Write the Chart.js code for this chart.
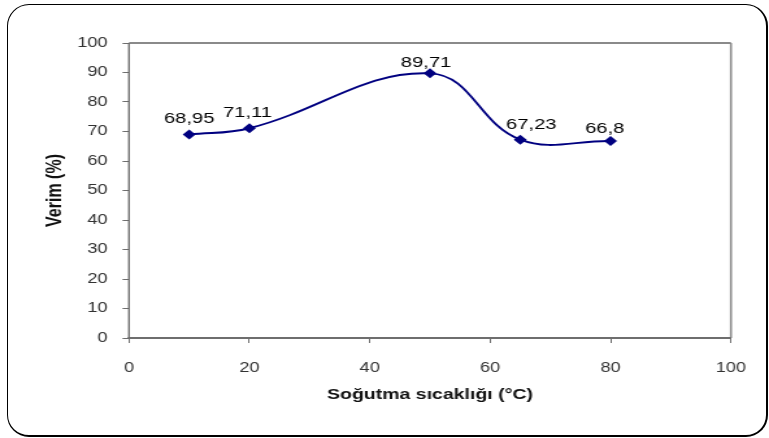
<!DOCTYPE html>
<html>
<head>
<meta charset="utf-8">
<script src="https://cdn.jsdelivr.net/npm/chart.js@4/dist/chart.umd.min.js"></script>
<style>
  html, body { margin: 0; padding: 0; background: #fff; }
  #wrap { position: relative; width: 769px; height: 438px; overflow: hidden; }
  #frame {
    position: absolute; left: 7px; top: 4px; width: 761px; height: 433px;
    box-sizing: border-box; border: 1px solid #000;
    border-right-width: 2px; border-bottom-width: 2px;
    border-radius: 22px;
  }
  /* the chart is drawn on a narrower canvas and widened to the page */
  canvas { position: absolute; left: 0; top: 0; transform-origin: 0 0; transform: scaleX(1.299); }
</style>
</head>
<body>
<div id="wrap">
  <div id="frame"></div>
  <canvas id="c" width="592" height="438"></canvas>
</div>
<script>
// Cooling temperature (°C) vs. yield (%)
const temperatures = [10, 20, 50, 65, 80];
const yields = [68.95, 71.11, 89.71, 67.23, 66.8];
const yieldLabels = ['68,95', '71,11', '89,71', '67,23', '66,8'];
const xTicks = [0, 20, 40, 60, 80, 100];
const yTicks = [0, 10, 20, 30, 40, 50, 60, 70, 80, 90, 100];

const points = temperatures.map((t, i) => ({ x: t, y: yields[i] }));
const FONT = '"Liberation Sans", Arial, sans-serif';

// Plot-area frame: grey box with darker axis lines
const plotFrame = {
  id: 'plotFrame',
  beforeDatasetsDraw(chart) {
    const { ctx, chartArea: a } = chart;
    ctx.save();
    ctx.strokeStyle = '#8a8a8a';
    ctx.lineWidth = 2;
    ctx.beginPath();
    ctx.moveTo(a.left, a.top);
    ctx.lineTo(a.right, a.top);
    ctx.stroke();
    ctx.lineWidth = 1.6;
    ctx.beginPath();
    ctx.moveTo(a.right, a.top);
    ctx.lineTo(a.right, a.bottom);
    ctx.stroke();
    ctx.strokeStyle = '#6e6e6e';
    ctx.lineWidth = 1.4;
    ctx.beginPath();
    ctx.moveTo(a.left, a.top);
    ctx.lineTo(a.left, a.bottom);
    ctx.stroke();
    ctx.lineWidth = 2;
    ctx.beginPath();
    ctx.moveTo(a.left - 1, a.bottom);
    ctx.lineTo(a.right, a.bottom);
    ctx.stroke();
    ctx.restore();
  }
};

// Value labels above each marker (with small per-label nudges)
const valueLabels = {
  id: 'valueLabels',
  afterDatasetsDraw(chart, args, opts) {
    const { ctx } = chart;
    const meta = chart.getDatasetMeta(0);
    ctx.save();
    ctx.font = '15.5px ' + FONT;
    ctx.fillStyle = '#000';
    ctx.textAlign = 'center';
    ctx.textBaseline = 'alphabetic';
    meta.data.forEach((pt, i) => {
      ctx.fillText(yieldLabels[i], pt.x + opts.dx[i], pt.y - opts.rise[i]);
    });
    ctx.restore();
  }
};

new Chart(document.getElementById('c'), {
  type: 'scatter',
  data: {
    datasets: [{
      data: points,
      showLine: true,
      borderColor: '#000080',
      backgroundColor: '#000080',
      borderWidth: 1.9,
      tension: 0.4,
      pointStyle: 'rectRot',
      pointRadius: 5,
      pointBorderWidth: 0,
      pointHoverRadius: 5
    }]
  },
  options: {
    responsive: false,
    animation: false,
    events: [],
    layout: { padding: { left: 33.4, right: 29.3, top: 43, bottom: 30 } },
    plugins: {
      legend: { display: false },
      tooltip: { enabled: false },
      valueLabels: { dx: [0, -1.5, -3, 8.5, -4.5], rise: [11.5, 11, 6, 11, 8] }
    },
    scales: {
      x: {
        type: 'linear', min: 0, max: 100,
        afterBuildTicks(s) { s.ticks = xTicks.map(v => ({ value: v })); },
        afterFit(s) { s.height = 70; },
        grid: { drawOnChartArea: false, drawTicks: true, tickLength: 5, color: '#6e6e6e', lineWidth: 1 },
        border: { display: false },
        ticks: { color: '#333', padding: 16.5, maxRotation: 0, font: { family: FONT, size: 14 } },
        title: { display: true, text: 'Soğutma sıcaklığı (°C)', color: '#111', padding: { top: 4 },
                 font: { family: FONT, size: 15, weight: 'bold' } }
      },
      y: {
        type: 'linear', min: 0, max: 100,
        afterBuildTicks(s) { s.ticks = yTicks.map(v => ({ value: v })); },
        afterFit(s) { s.width = 65.9; },
        grid: { drawOnChartArea: false, drawTicks: true, tickLength: 5, color: '#6e6e6e', lineWidth: 1 },
        border: { display: false },
        ticks: { color: '#333', padding: 11.5, font: { family: FONT, size: 14 } },
        title: { display: true, text: 'Verim (%)', color: '#111', padding: { top: 0, bottom: 0 },
                 font: { family: FONT, size: 16, weight: 'bold' } }
      }
    }
  },
  plugins: [plotFrame, valueLabels]
});
</script>
</body>
</html>
